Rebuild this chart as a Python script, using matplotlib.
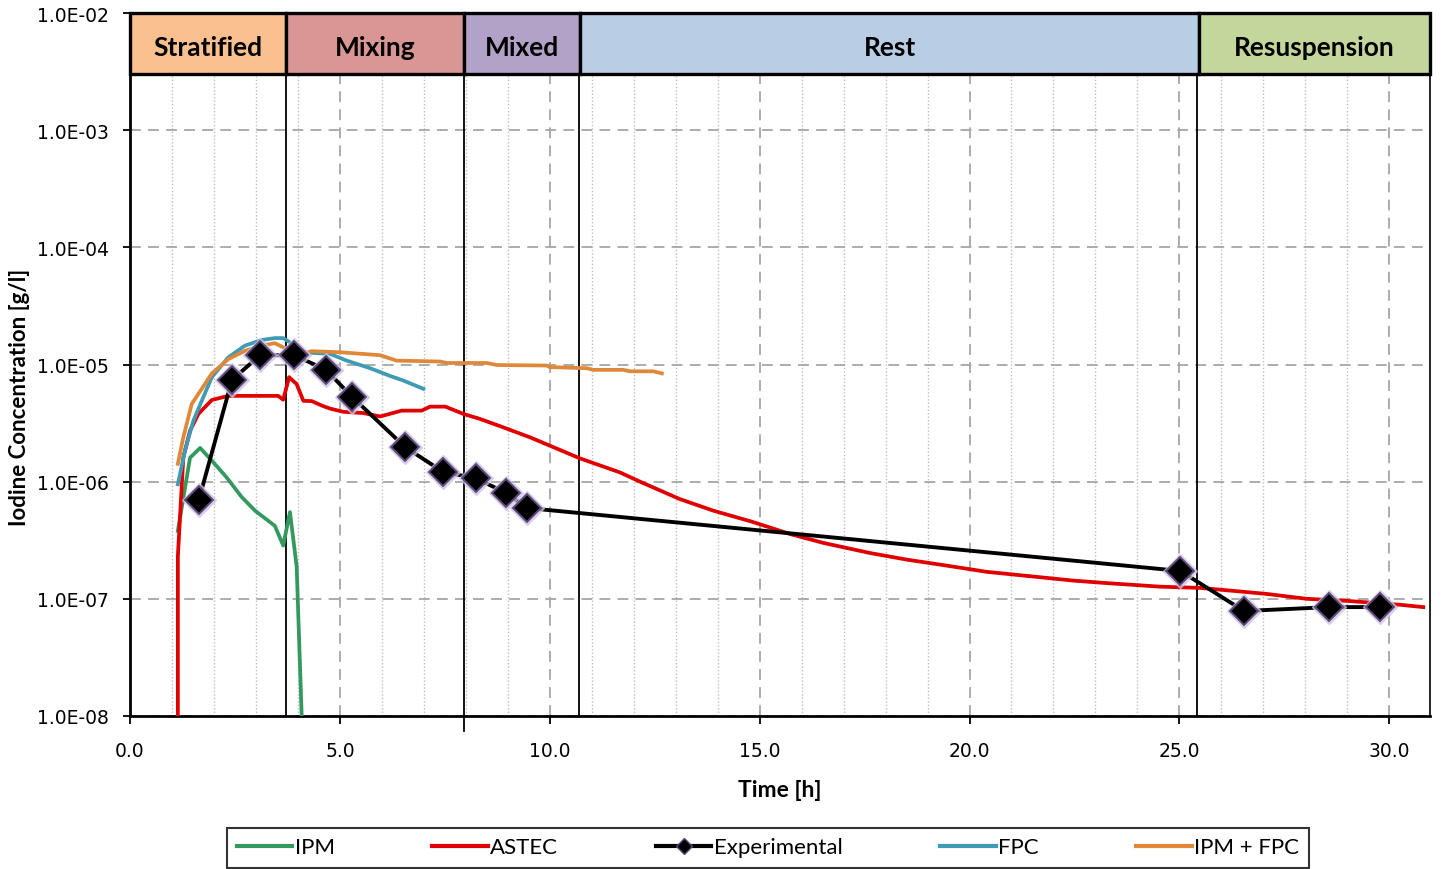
import matplotlib
matplotlib.use('Agg')
import matplotlib.pyplot as plt
from matplotlib.lines import Line2D
from matplotlib.ticker import FixedLocator, MultipleLocator, FuncFormatter, NullLocator

# ---- data (time in h, concentration in g/l) ----
ipm_t = [1.14, 1.43, 1.67, 1.95, 2.30, 2.66, 2.98, 3.45, 3.65, 3.81, 3.97, 4.09]
ipm_c = [3.8e-7, 1.6e-6, 1.94e-6, 1.51e-6, 1.09e-6, 7.4e-7, 5.65e-7, 4.2e-7, 2.85e-7, 5.5e-7, 1.9e-7, 1.0e-8]

astec_t = [1.14, 1.14, 1.27, 1.43, 1.63, 1.95, 2.34, 3.53, 3.65, 3.79, 3.97, 4.13, 4.33,
           4.57, 4.77, 5.08, 5.56, 5.96, 6.47, 6.95, 7.15, 7.51, 7.94, 8.34, 8.89, 9.53,
           10.0, 10.72, 11.67, 12.15, 13.10, 13.90, 14.81, 15.73, 16.52, 17.63, 18.51,
           19.46, 20.41, 21.44, 22.48, 23.30, 24.54, 25.49, 26.28, 27.09, 28.04, 29.0,
           30.26, 30.81]
astec_c = [1.0e-8, 2.3e-7, 1.61e-6, 2.72e-6, 3.79e-6, 4.98e-6, 5.4e-6, 5.4e-6, 5.0e-6,
           7.8e-6, 6.8e-6, 4.9e-6, 4.87e-6, 4.46e-6, 4.2e-6, 3.95e-6, 3.85e-6, 3.6e-6,
           4.04e-6, 4.04e-6, 4.37e-6, 4.37e-6, 3.79e-6, 3.43e-6, 2.91e-6, 2.39e-6,
           2.03e-6, 1.58e-6, 1.2e-6, 1.0e-6, 7.1e-7, 5.65e-7, 4.56e-7, 3.57e-7, 3.0e-7,
           2.46e-7, 2.16e-7, 1.92e-7, 1.7e-7, 1.56e-7, 1.43e-7, 1.36e-7, 1.27e-7,
           1.24e-7, 1.17e-7, 1.10e-7, 1.0e-7, 9.6e-8, 8.9e-8, 8.5e-8]

exp_t = [1.64, 2.43, 3.10, 3.91, 4.67, 5.29, 6.55, 7.46, 8.24, 8.96, 9.46, 25.02, 26.54, 28.57, 29.78]
exp_c = [7.0e-7, 7.4e-6, 1.2e-5, 1.2e-5, 9.0e-6, 5.3e-6, 1.98e-6, 1.21e-6, 1.07e-6, 8.0e-7,
         5.96e-7, 1.73e-7, 7.87e-8, 8.5e-8, 8.5e-8]

fpc_t = [1.14, 1.31, 1.51, 1.71, 1.95, 2.34, 2.74, 3.14, 3.45, 3.65, 3.93, 4.17, 4.77,
         5.16, 5.72, 6.19, 6.51, 6.99]
fpc_c = [9.5e-7, 1.84e-6, 3.32e-6, 4.9e-6, 7.8e-6, 1.15e-5, 1.45e-5, 1.62e-5, 1.68e-5,
         1.68e-5, 1.45e-5, 1.27e-5, 1.23e-5, 1.08e-5, 9.3e-6, 8.0e-6, 7.3e-6, 6.2e-6]

ipmfpc_t = [1.14, 1.27, 1.47, 1.71, 1.95, 2.34, 2.74, 3.14, 3.45, 3.69, 4.09, 4.33, 5.04,
            5.96, 6.35, 7.39, 7.55, 8.5, 8.74, 9.93, 10.0, 10.88, 11.04, 11.75, 11.91,
            12.47, 12.67]
ipmfpc_c = [1.42e-6, 2.39e-6, 4.6e-6, 6.2e-6, 8.4e-6, 1.11e-5, 1.31e-5, 1.45e-5, 1.52e-5,
            1.38e-5, 1.23e-5, 1.30e-5, 1.27e-5, 1.2e-5, 1.08e-5, 1.06e-5, 1.03e-5,
            1.03e-5, 9.9e-6, 9.8e-6, 9.5e-6, 9.3e-6, 9.0e-6, 9.0e-6, 8.75e-6, 8.75e-6,
            8.4e-6]

phases = ["Stratified", "Mixing", "Mixed", "Rest", "Resuspension"]
phase_start = [0.0, 3.72, 7.96, 10.72, 25.47]
phase_end = [3.72, 7.96, 10.72, 25.47, 30.97]
phase_colors = ["#FAC090", "#D99694", "#B3A2C7", "#B9CDE5", "#C3D69B"]
phase_lines = [3.72, 7.96, 10.70, 25.42]

y_ticks = [1e-8, 1e-7, 1e-6, 1e-5, 1e-4, 1e-3, 1e-2]
x_ticks = [0, 5, 10, 15, 20, 25, 30]

c_ipm = "#33995E"
c_astec = "#E00000"
c_fpc = "#3F9BB4"
c_ipmfpc = "#E0883A"

label_font = ['Lato', 'DejaVu Sans']
tick_font = 'DejaVu Sans'

fig = plt.figure(figsize=(14.42, 8.70), dpi=100)
ax = fig.add_axes([130 / 1442, 1 - 717 / 870, 1300 / 1442, 703 / 870])

ax.set_yscale('log')
ax.set_xlim(0, 30.97)
ax.set_ylim(1e-8, 1e-2)

# grid
ax.xaxis.set_major_locator(FixedLocator(x_ticks))
ax.xaxis.set_minor_locator(MultipleLocator(1))
ax.yaxis.set_major_locator(FixedLocator(y_ticks))
ax.yaxis.set_minor_locator(NullLocator())
ax.grid(which='major', axis='both', color='#A6A6A6', linestyle=(0, (6, 4)), lw=1.3, zorder=0)
ax.grid(which='minor', axis='x', color='#BFBFBF', linestyle=(0, (1, 1.5)), lw=1.0, zorder=0)
ax.set_axisbelow(True)

ax.yaxis.set_major_formatter(FuncFormatter(lambda v, p: f"{v:.1E}"))
ax.xaxis.set_major_formatter(FuncFormatter(lambda v, p: f"{v:.1f}"))
ax.tick_params(axis='y', which='major', direction='out', length=5, width=1.3, pad=10,
               labelsize=13.5, labelfontfamily=tick_font)
ax.tick_params(axis='x', which='major', direction='out', length=6, width=1.3, pad=12,
               labelsize=13.5, labelfontfamily=tick_font)
ax.tick_params(which='minor', length=0)

for s in ['left', 'bottom']:
    ax.spines[s].set_linewidth(2)
ax.spines['right'].set_linewidth(1.2)
ax.spines['top'].set_visible(False)

# phase bands
band_bottom = 1 - 61 / 703
for name, x0, x1, col in zip(phases, phase_start, phase_end, phase_colors):
    ax.axvspan(x0, x1, ymin=band_bottom, ymax=1, facecolor=col, edgecolor='black',
               lw=2.4, zorder=6, clip_on=False)
    ax.text((x0 + x1) / 2, 0.952, name, transform=ax.get_xaxis_transform(),
            ha='center', va='center', fontsize=19, fontweight='bold',
            family=label_font, zorder=7)

for xl in phase_lines:
    ymin = -0.022 if xl == 7.96 else 0
    ax.axvline(xl, ymin=ymin, ymax=band_bottom, color='black', lw=1.3, zorder=1.5,
               clip_on=False)

# series
ax.plot(ipm_t, ipm_c, color=c_ipm, lw=2.7, zorder=3)
ax.plot(astec_t, astec_c, color=c_astec, lw=2.7, zorder=3)
ax.plot(fpc_t, fpc_c, color=c_fpc, lw=2.7, zorder=3)
ax.plot(ipmfpc_t, ipmfpc_c, color=c_ipmfpc, lw=2.7, zorder=3)
ax.plot(exp_t, exp_c, color='black', lw=2.8, zorder=4)
ax.plot(exp_t, exp_c, linestyle='none', marker='D', ms=17, color='#CFC3E3', alpha=0.7, zorder=4)
ax.plot(exp_t, exp_c, linestyle='none', marker='D', ms=14, mfc='black', mec='#5C4A7A',
        mew=1.4, zorder=5)

ax.set_xlabel('Time [h]', fontsize=16.5, fontweight='bold', family=label_font, labelpad=14)
ax.set_ylabel('Iodine Concentration [g/l]', fontsize=16, fontweight='bold',
              family=label_font)
ax.yaxis.set_label_coords(-0.077, 0.454)

# legend
handles = [
    Line2D([], [], color=c_ipm, lw=3),
    Line2D([], [], color=c_astec, lw=3),
    Line2D([], [], color='black', lw=3, marker='D', ms=8, mfc='black', mec='#5C4A7A'),
    Line2D([], [], color=c_fpc, lw=3),
    Line2D([], [], color=c_ipmfpc, lw=3),
]
labels = ['IPM', 'ASTEC', 'Experimental', 'FPC', 'IPM + FPC']
leg = fig.legend(handles, labels, loc='center', bbox_to_anchor=(768 / 1442, 1 - 848.5 / 870),
                 ncol=5, frameon=True, fancybox=False, edgecolor='black',
                 prop={'family': label_font, 'size': 16}, handlelength=2.5,
                 handletextpad=0.1, columnspacing=4.4, borderpad=0.45,
                 borderaxespad=0)
leg.get_frame().set_linewidth(1.5)
leg.get_frame().set_boxstyle('square', pad=0)

fig.savefig('out.png', dpi=100)
